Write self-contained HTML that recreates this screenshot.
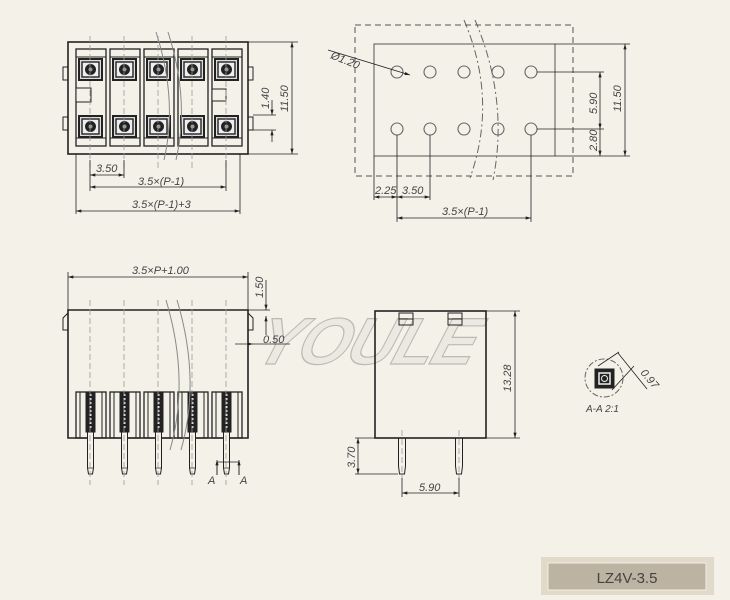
<!DOCTYPE html>
<html><head><meta charset="utf-8"><style>
html,body{margin:0;padding:0;background:#f4f1e9;}
svg{display:block;}
text{font-family:"Liberation Sans",sans-serif;fill:#444;}
.d{font-style:italic;font-size:11px;}
</style></head><body>
<svg width="730" height="600" viewBox="0 0 730 600" xmlns="http://www.w3.org/2000/svg">
<defs>
<marker id="ar" viewBox="0 0 10 6" refX="10" refY="3" markerWidth="8" markerHeight="4" orient="auto-start-reverse"><path d="M0,0L10,3L0,6z" fill="#222"/></marker>
<g id="cell">
 <rect x="0" y="0" width="30" height="97" fill="none" stroke="#222" stroke-width="1.3"/>
 <line x1="0" y1="8" x2="30" y2="8" stroke="#222"/>
 <line x1="0" y1="89" x2="30" y2="89" stroke="#222"/>
 <g id="sq"><rect x="3" y="10" width="23" height="21" fill="#ddd" stroke="#222" stroke-width="2"/>
 <rect x="6" y="13" width="17" height="15" fill="#eee" stroke="#222" stroke-width="1.4"/>
 <circle cx="14.5" cy="20.5" r="5" fill="#222"/><circle cx="14.5" cy="20.5" r="2.5" fill="#999"/></g>
 <use href="#sq" y="57"/>
</g>
<g id="pinh">
 <rect x="0" y="0" width="30" height="46" fill="none" stroke="#222" stroke-width="1.3"/>
 <line x1="4" y1="0" x2="4" y2="46" stroke="#222"/><line x1="26" y1="0" x2="26" y2="46" stroke="#222"/>
 <rect x="10" y="0" width="9" height="40" fill="#222"/>
 <line x1="14.5" y1="2" x2="14.5" y2="38" stroke="#ddd" stroke-width="2" stroke-dasharray="2,2"/>
 <path d="M11.5,40 L17.5,40 L17.5,76 L16.5,82 L12.5,82 L11.5,76 Z" fill="#f4f1e9" stroke="#222"/>
 <line x1="11.5" y1="76" x2="17.5" y2="76" stroke="#222" stroke-width="0.7"/>
</g>
</defs>

<!-- watermark -->
<text x="252" y="364" font-size="66" font-weight="bold" font-style="italic" transform="skewX(-18) translate(118,0)" textLength="220" style="font-family:'Liberation Sans',sans-serif;fill:#ece9e2;stroke:#bdbab3;stroke-width:1.2">YOULE</text>

<g stroke="#222" fill="none">
<!-- TOP LEFT -->
<rect x="68" y="42" width="180" height="112" stroke-width="1.6"/>
<rect x="63" y="67" width="5" height="13"/><rect x="63" y="117" width="5" height="13"/>
<rect x="248" y="67" width="5" height="13"/><rect x="248" y="117" width="5" height="13"/>
<use href="#cell" x="76" y="49"/><use href="#cell" x="110" y="49"/><use href="#cell" x="144" y="49"/><use href="#cell" x="178" y="49"/><use href="#cell" x="212" y="49"/>
<rect x="76" y="88" width="15" height="14" fill="#f4f1e9"/>
<rect x="212" y="89" width="14" height="12" fill="#f4f1e9"/>
<g stroke="#999" stroke-dasharray="6,3" stroke-width="0.8">
<line x1="90" y1="36" x2="90" y2="168"/><line x1="124" y1="36" x2="124" y2="168"/><line x1="158" y1="36" x2="158" y2="168"/><line x1="192" y1="36" x2="192" y2="168"/><line x1="226" y1="36" x2="226" y2="168"/>
</g>
<path d="M156,32 Q178,100 164,160" stroke="#888" stroke-width="1"/><path d="M168,32 Q190,100 176,160" stroke="#888" stroke-width="1"/>
<g stroke-width="0.8">
<line x1="248" y1="42" x2="298" y2="42"/><line x1="248" y1="154" x2="298" y2="154"/>
<line x1="292" y1="42" x2="292" y2="154" marker-start="url(#ar)" marker-end="url(#ar)"/>
<line x1="253" y1="115" x2="276" y2="115"/><line x1="253" y1="130" x2="276" y2="130"/>
<line x1="272" y1="100" x2="272" y2="115" marker-end="url(#ar)"/><line x1="272" y1="142" x2="272" y2="130" marker-end="url(#ar)"/>
<line x1="90" y1="160" x2="90" y2="191"/><line x1="124" y1="160" x2="124" y2="178"/><line x1="226" y1="160" x2="226" y2="191"/>
<line x1="90" y1="175" x2="124" y2="175" marker-start="url(#ar)" marker-end="url(#ar)"/>
<line x1="90" y1="187" x2="226" y2="187" marker-start="url(#ar)" marker-end="url(#ar)"/>
<line x1="76" y1="154" x2="76" y2="214"/><line x1="240" y1="154" x2="240" y2="214"/>
<line x1="76" y1="211" x2="240" y2="211" marker-start="url(#ar)" marker-end="url(#ar)"/>
</g>

<!-- TOP RIGHT -->
<rect x="355" y="25" width="218" height="151" stroke-dasharray="6,4" stroke="#555"/>
<rect x="374" y="44" width="181" height="112" stroke="#555"/>
<g stroke="#666" stroke-width="1.1">
<circle cx="397" cy="72" r="6"/><circle cx="430" cy="72" r="6"/><circle cx="464" cy="72" r="6"/><circle cx="498" cy="72" r="6"/><circle cx="531" cy="72" r="6"/>
<circle cx="397" cy="129" r="6"/><circle cx="430" cy="129" r="6"/><circle cx="464" cy="129" r="6"/><circle cx="498" cy="129" r="6"/><circle cx="531" cy="129" r="6"/>
</g>
<path d="M464,20 Q498,100 470,178" stroke="#666" stroke-dasharray="8,3,2,3"/><path d="M475,20 Q509,100 493,180" stroke="#666" stroke-dasharray="8,3,2,3"/>
<g stroke-width="0.8">
<line x1="328" y1="50" x2="410" y2="75" marker-end="url(#ar)"/>
<line x1="555" y1="44" x2="630" y2="44"/><line x1="555" y1="156" x2="630" y2="156"/>
<line x1="625" y1="44" x2="625" y2="156" marker-start="url(#ar)" marker-end="url(#ar)"/>
<line x1="537" y1="72" x2="604" y2="72"/><line x1="537" y1="129" x2="604" y2="129"/>
<line x1="600" y1="72" x2="600" y2="129" marker-start="url(#ar)" marker-end="url(#ar)"/>
<line x1="600" y1="129" x2="600" y2="156" marker-end="url(#ar)"/>
<line x1="374" y1="156" x2="374" y2="200"/><line x1="397" y1="135" x2="397" y2="222"/><line x1="430" y1="135" x2="430" y2="200"/><line x1="531" y1="135" x2="531" y2="222"/>
<line x1="374" y1="197" x2="397" y2="197" marker-start="url(#ar)" marker-end="url(#ar)"/>
<line x1="397" y1="197" x2="430" y2="197" marker-start="url(#ar)" marker-end="url(#ar)"/>
<line x1="397" y1="218" x2="531" y2="218" marker-start="url(#ar)" marker-end="url(#ar)"/>
</g>

<!-- BOTTOM LEFT -->
<path d="M68,310 L248,310 L248,438 L68,438 Z" stroke-width="1.6"/>
<path d="M68,313 L63,318 L63,330 L68,330" /><path d="M248,313 L253,318 L253,330 L248,330"/>
<use href="#pinh" x="76" y="392"/><use href="#pinh" x="110" y="392"/><use href="#pinh" x="144" y="392"/><use href="#pinh" x="178" y="392"/><use href="#pinh" x="212" y="392"/>
<g stroke="#999" stroke-dasharray="6,3" stroke-width="0.8">
<line x1="90" y1="300" x2="90" y2="485"/><line x1="124" y1="300" x2="124" y2="485"/><line x1="158" y1="300" x2="158" y2="485"/><line x1="192" y1="300" x2="192" y2="485"/><line x1="226" y1="300" x2="226" y2="485"/>
</g>
<path d="M166,300 Q190,380 170,450" stroke="#888"/><path d="M177,300 Q201,380 181,450" stroke="#888"/>
<g stroke-width="0.8">
<line x1="68" y1="272" x2="68" y2="310"/><line x1="248" y1="272" x2="248" y2="310"/>
<line x1="68" y1="277" x2="248" y2="277" marker-start="url(#ar)" marker-end="url(#ar)"/>
<line x1="248" y1="310" x2="270" y2="310"/>
<line x1="266" y1="280" x2="266" y2="310" marker-end="url(#ar)"/><line x1="266" y1="335" x2="266" y2="316" marker-end="url(#ar)"/>
<line x1="235" y1="344" x2="253" y2="344" marker-end="url(#ar)"/><line x1="290" y1="344" x2="253" y2="344"/>
<path d="M217,475 L217,462 L239,462 L239,475"/>
<line x1="217" y1="475" x2="217" y2="460" marker-end="url(#ar)"/><line x1="239" y1="475" x2="239" y2="460" marker-end="url(#ar)"/>
</g>

<!-- BOTTOM MIDDLE -->
<rect x="375" y="311" width="111" height="127" stroke-width="1.6"/>
<rect x="399" y="313" width="14" height="12"/><line x1="399" y1="319" x2="413" y2="319"/>
<rect x="448" y="313" width="14" height="12"/><line x1="448" y1="319" x2="462" y2="319"/>
<path d="M398.5,438 L405.5,438 L405.5,466 L404.5,474 L399.5,474 L398.5,466 Z"/>
<path d="M455.5,438 L462.5,438 L462.5,466 L461.5,474 L456.5,474 L455.5,466 Z"/>
<g stroke="#999" stroke-dasharray="6,3" stroke-width="0.8"><line x1="402" y1="430" x2="402" y2="480"/><line x1="459" y1="430" x2="459" y2="480"/></g>
<g stroke-width="0.8">
<line x1="486" y1="311" x2="520" y2="311"/><line x1="486" y1="438" x2="520" y2="438"/>
<line x1="515" y1="311" x2="515" y2="438" marker-start="url(#ar)" marker-end="url(#ar)"/>
<line x1="355" y1="438" x2="375" y2="438"/><line x1="355" y1="474" x2="398" y2="474"/>
<line x1="358" y1="438" x2="358" y2="474" marker-start="url(#ar)" marker-end="url(#ar)"/>
<line x1="402" y1="478" x2="402" y2="497"/><line x1="459" y1="478" x2="459" y2="497"/>
<line x1="402" y1="493" x2="459" y2="493" marker-start="url(#ar)" marker-end="url(#ar)"/>
</g>

<!-- detail -->
<circle cx="604" cy="378" r="19" stroke="#666" stroke-dasharray="6,2,2,2"/>
<rect x="595" y="369" width="19" height="19" fill="#222"/>
<rect x="599" y="373" width="11" height="11" stroke="#eee" stroke-width="1.5"/>
<circle cx="604.5" cy="378.5" r="3" stroke="#eee"/>
<g stroke-width="0.8"><line x1="598" y1="366" x2="619" y2="352"/><line x1="612" y1="390" x2="634" y2="366"/>
<line x1="618" y1="353" x2="647" y2="389"/></g>
</g>

<!-- texts -->
<text class="d" x="96" y="172">3.50</text>
<text class="d" x="138" y="185">3.5×(P-1)</text>
<text class="d" x="132" y="208">3.5×(P-1)+3</text>
<text class="d" transform="translate(288,112) rotate(-90)">11.50</text>
<text class="d" transform="translate(269,109) rotate(-90)">1.40</text>
<text class="d" transform="translate(330,58) rotate(22)">Ø1.20</text>
<text class="d" transform="translate(621,112) rotate(-90)">11.50</text>
<text class="d" transform="translate(597,114) rotate(-90)">5.90</text>
<text class="d" transform="translate(597,151) rotate(-90)">2.80</text>
<text class="d" x="375" y="194">2.25</text>
<text class="d" x="402" y="194">3.50</text>
<text class="d" x="442" y="215">3.5×(P-1)</text>
<text class="d" x="132" y="274">3.5×P+1.00</text>
<text class="d" transform="translate(263,298) rotate(-90)">1.50</text>
<text class="d" x="263" y="343">0.50</text>
<text class="d" x="208" y="484">A</text>
<text class="d" x="240" y="484">A</text>
<text class="d" transform="translate(511,392) rotate(-90)">13.28</text>
<text class="d" transform="translate(355,468) rotate(-90)">3.70</text>
<text class="d" x="419" y="491">5.90</text>
<text class="d" transform="translate(640,373) rotate(50)">0.97</text>
<text x="586" y="412" font-size="10" font-style="italic">A-A 2:1</text>

<!-- label -->
<rect x="541" y="557" width="173" height="38" fill="#e1d9c9"/>
<rect x="548" y="563" width="158" height="27" fill="#bdb3a2" stroke="#f2ede3" stroke-width="1"/>
<text x="627" y="583" font-size="15" text-anchor="middle" fill="#333">LZ4V-3.5</text>
</svg>
</body></html>
